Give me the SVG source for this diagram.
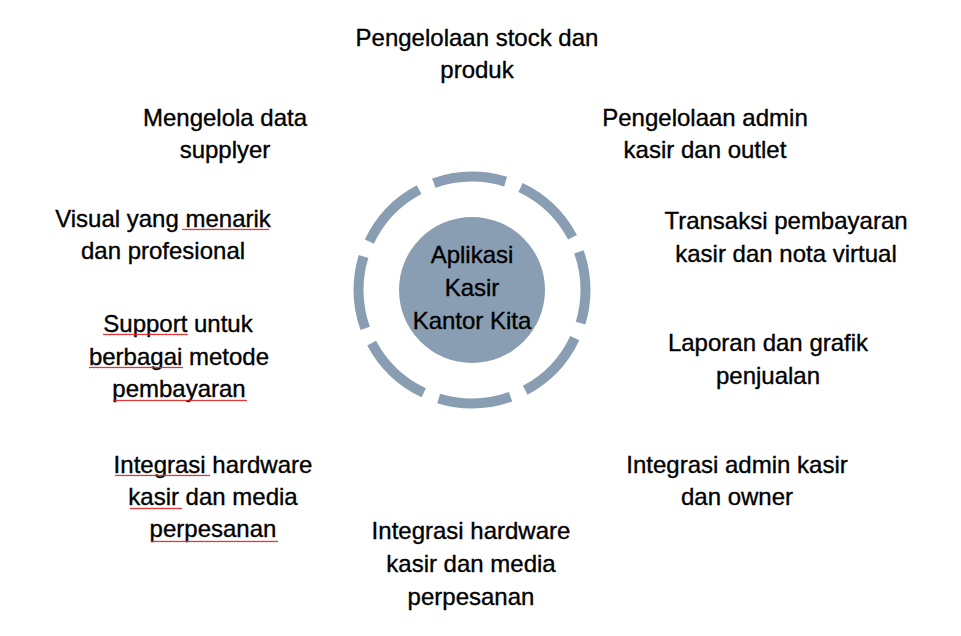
<svg xmlns="http://www.w3.org/2000/svg" width="961" height="636" viewBox="0 0 961 636">
<defs>
<style>
.t{font-family:"Liberation Sans",Arial,sans-serif;font-size:24px;fill:#000;stroke:#000;stroke-width:0.35;text-anchor:middle}
.ring{fill:none;stroke:#8a9eb3;stroke-width:10;stroke-dasharray:73.14 16;stroke-dashoffset:39.5}
.core{fill:#8a9eb3}
.sq{fill:url(#wave)}
</style>
<pattern id="wave" patternUnits="userSpaceOnUse" x="0" y="0" width="4" height="3">
<path d="M0 2.2 L1 0.8 L2 2.2 L3 0.8 L4 2.2" fill="none" stroke="#e02020" stroke-width="0.9"/>
</pattern>
</defs>
<rect width="961" height="636" fill="#fff"/>
<g id="connectors"></g>
<g id="center">
<circle class="ring" cx="472" cy="290" r="113.5"/>
<circle class="core" cx="472" cy="290" r="73"/>
<text class="t" x="472" y="263">Aplikasi</text>
<text class="t" x="472" y="296">Kasir</text>
<text class="t" x="472" y="329">Kantor Kita</text>
</g>
<g id="n1"><text class="t" x="477" y="46">Pengelolaan stock dan</text><text class="t" x="477" y="78">produk</text></g>
<g id="n2"><text class="t" x="705" y="126">Pengelolaan admin</text><text class="t" x="705" y="158">kasir dan outlet</text></g>
<g id="n3"><text class="t" x="786" y="229">Transaksi pembayaran</text><text class="t" x="786" y="262">kasir dan nota virtual</text></g>
<g id="n4"><text class="t" x="768" y="351">Laporan dan grafik</text><text class="t" x="768" y="384">penjualan</text></g>
<g id="n5"><text class="t" x="737" y="473">Integrasi admin kasir</text><text class="t" x="737" y="505">dan owner</text></g>
<g id="n6"><text class="t" x="471" y="539">Integrasi hardware</text><text class="t" x="471" y="572">kasir dan media</text><text class="t" x="471" y="605">perpesanan</text></g>
<g id="n7"><text class="t" x="213" y="473">Integrasi hardware</text><text class="t" x="213" y="505">kasir dan media</text><text class="t" x="213" y="537">perpesanan</text>
<rect class="sq" x="115" y="474" width="95" height="3"/><rect class="sq" x="130" y="507" width="52" height="3"/><rect class="sq" x="151" y="540" width="127" height="3"/></g>
<g id="n8"><text class="t" x="178" y="332">Support untuk</text><text class="t" x="179" y="365">berbagai metode</text><text class="t" x="179" y="397">pembayaran</text>
<rect class="sq" x="103" y="333" width="85" height="3"/><rect class="sq" x="89" y="366" width="94" height="3"/><rect class="sq" x="113" y="399" width="134" height="3"/></g>
<g id="n9"><text class="t" x="163" y="227">Visual yang menarik</text><text class="t" x="163" y="259">dan profesional</text>
<rect class="sq" x="182" y="228" width="87" height="3"/></g>
<g id="n10"><text class="t" x="225" y="126">Mengelola data</text><text class="t" x="225" y="158">supplyer</text></g>
</svg>
